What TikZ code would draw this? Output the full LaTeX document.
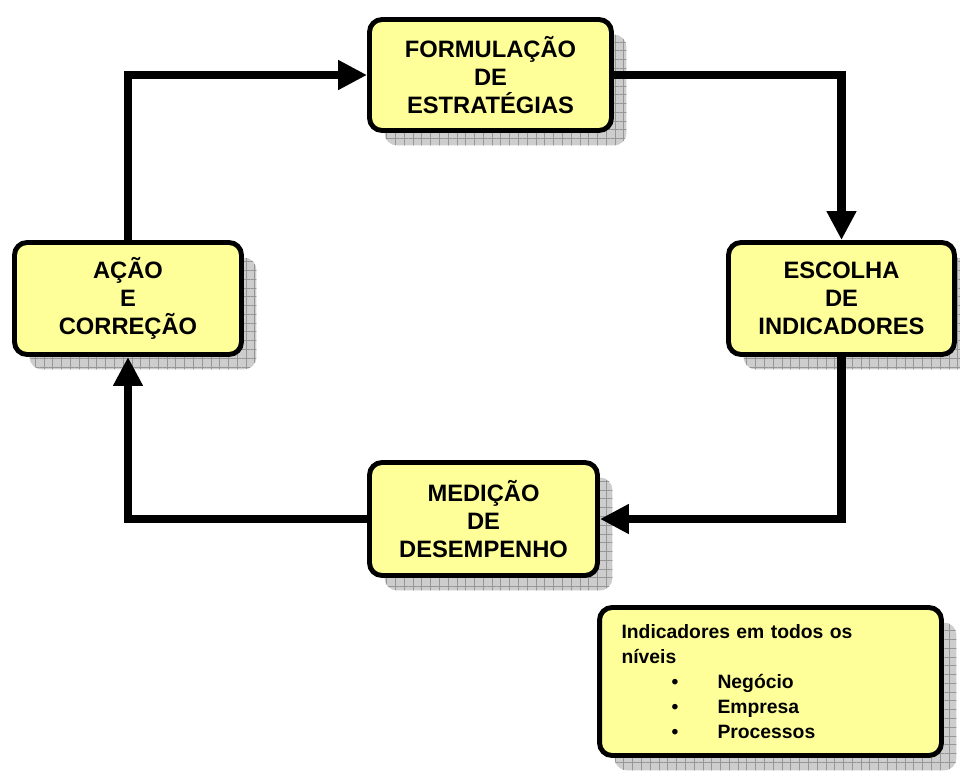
\documentclass[tikz,border=0pt]{standalone}
\usepackage{fontspec}
\setmainfont{Liberation Sans}
\usetikzlibrary{shadows,patterns.meta,arrows.meta}
\definecolor{yel}{RGB}{255, 255, 153}
\definecolor{shd}{RGB}{205, 205, 205}
\definecolor{grd}{RGB}{150, 150, 150}
\newcommand{\nivel}[1]{\hspace*{1.0cm}\makebox[0.92cm][l]{\textbullet}#1}

\begin{document}
\begin{tikzpicture}[x=0.02cm, y=-0.02cm]
    \useasboundingbox (0,0) rectangle (960,771);
    \tikzstyle{yblock} = [rectangle, draw=black, line width=2.8pt, fill=yel,
    align=center, rounded corners=0.25cm, font=\fontsize{13.5}{15.9}\selectfont\bfseries,
    drop shadow={shadow xshift=0.3cm, shadow yshift=-0.3cm, fill=shd, opacity=1},
    drop shadow={shadow xshift=0.3cm, shadow yshift=-0.3cm, opacity=1, pattern color=grd,
      pattern={Hatch[angle=0, distance=5pt, line width=0.3pt]}}];
    \tikzstyle{noteblock} = [yblock, text width=5.96cm, inner xsep=0.44cm, align=left,
    font=\fontsize{11}{14.2}\selectfont\bfseries];
    \tikzstyle{line} = [draw, line width=5pt, -{Triangle[length=16.5pt, width=16pt]}];
    % Top
    \node [yblock, minimum width=4.84cm, minimum height=2.22cm] (form) at (490.5,75)
      {FORMULAÇÃO\\DE\\ESTRATÉGIAS};
    % Middle
    \node [yblock, minimum width=4.54cm, minimum height=2.24cm] (acao) at (128,298.5)
      {AÇÃO\\E\\CORREÇÃO};
    \node [yblock, minimum width=4.52cm, minimum height=2.24cm] (escolha) at (841.5,298.5)
      {ESCOLHA\\DE\\INDICADORES};
    % Bottom
    \node [yblock, minimum width=4.56cm, minimum height=2.26cm] (medicao) at (483.5,519)
      {MEDIÇÃO\\DE\\DESEMPENHO};
    \node [noteblock, minimum height=2.96cm] (niveis) at (770.5,681.5)
      {Indicadores em todos os\\níveis\\\nivel{Negócio}\\\nivel{Empresa}\\\nivel{Processos}};

    \tikzstyle{every path}=[line]
      % the cycle
      \draw (acao.north) |- (form.west);
      \draw (form.east) -| (escolha.north);
      \draw (escolha.south) |- (medicao.east);
      \draw (medicao.west) -| (acao.south);
\end{tikzpicture}
\end{document}
